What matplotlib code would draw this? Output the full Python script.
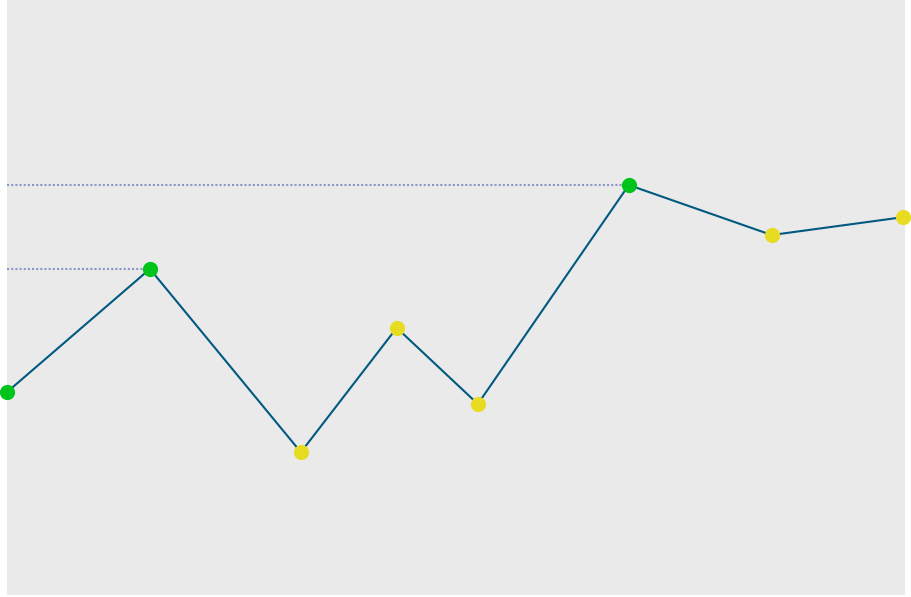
import matplotlib
matplotlib.use('Agg')
import matplotlib.pyplot as plt
import numpy as np

# values
x_vals = [0, 31.9, 65.6, 87.0, 105.1, 138.8, 170.7, 200]
y_vals = [34.1, 54.8, 24.0, 44.9, 32.1, 68.9, 60.5, 63.5]

x = np.array(x_vals)
y = np.array(y_vals)

# points that set a new high are green, the rest yellow
record = np.array([v >= y[:i + 1].max() for i, v in enumerate(y)])

fig = plt.figure(figsize=(9.12, 5.97), dpi=100)
ax = fig.add_axes([7 / 912, 2 / 597, 898 / 912, 595 / 597])
ax.set_facecolor('#eaeaea')

for i in np.where(record)[0]:
    if i > 0:
        ax.plot([x[0], x[i]], [y[i], y[i]], linestyle=(0, (1, 1)),
                color='#8a96c8', linewidth=1.5, zorder=1)

ax.plot(x, y, color='#005a80', linewidth=1.5, zorder=2)
ax.scatter(x[record], y[record], s=120, color='#00c41c', zorder=3, clip_on=False, linewidths=0)
ax.scatter(x[~record], y[~record], s=120, color='#e8dc22', zorder=3, clip_on=False, linewidths=0)

ax.set_xlim(0, 200.45)
ax.set_ylim(0, 100)
ax.set_xticks([])
ax.set_yticks([])
for s in ax.spines.values():
    s.set_visible(False)

fig.savefig('out.png', dpi=100, facecolor='white')
